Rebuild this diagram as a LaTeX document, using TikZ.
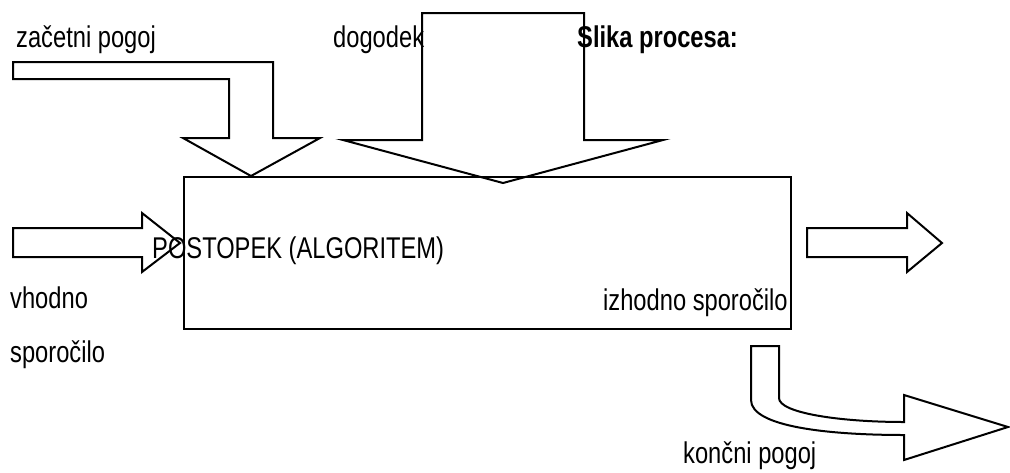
\documentclass[tikz,border=0pt]{standalone}
\usepackage{fontspec}
\setmainfont{Liberation Sans}[FakeStretch=0.79]
\begin{document}
\begin{tikzpicture}[x=1pt,y=-1pt,
  blockarrow/.style={draw=black,line width=2pt,line join=miter},
  lbl/.style={anchor=base west,inner sep=0pt,font=\fontsize{30pt}{32pt}\selectfont},
  procbox/.style={draw=black,line width=2pt,inner sep=0pt}]
\useasboundingbox (0,0) rectangle (1010,472);
% process box
\node[procbox,minimum width=607pt,minimum height=152pt,anchor=north west] (proc) at (183,176) {};
% start condition arrow
\draw[blockarrow] (13,62) -- (273,62) -- (273,138) -- (320,138) -- (251,176) -- (183,138) -- (229,138) -- (229,79) -- (13,79) -- cycle;
% event arrow
\draw[blockarrow] (422,13) -- (584,13) -- (584,140) -- (663,140) -- (503,183) -- (343,140) -- (422,140) -- cycle;
% input arrow
\draw[blockarrow] (13,228) -- (142,228) -- (142,213) -- (180,243) -- (142,272) -- (142,257) -- (13,257) -- cycle;
% output arrow
\draw[blockarrow] (807,228) -- (907,228) -- (907,213) -- (942,243) -- (907,272) -- (907,257) -- (807,257) -- cycle;
% end condition arrow
\draw[blockarrow] (751,346) -- (779,346) -- (779,398)
  .. controls (779,413) and (840,422) .. (904,422)
  -- (904,395) -- (1008,427) -- (904,460) -- (904,435)
  .. controls (830,435) and (751,427) .. (751,400) -- cycle;
% labels
\node[lbl] (zac) at (16,47) {začetni pogoj};
\node[lbl] (dog) at (333,47) {dogodek};
\node[lbl,font=\fontsize{30pt}{32pt}\selectfont\bfseries] (slika) at (577,47) {Slika procesa:};
\node[lbl] (post) at (152,258) {POSTOPEK (ALGORITEM)};
\node[lbl] (vh1) at (10,308) {vhodno};
\node[lbl] (vh2) at (10,362) {sporočilo};
\node[lbl] (izh) at (603,310) {izhodno sporočilo};
\node[lbl] (kon) at (683,463) {končni pogoj};
\end{tikzpicture}
\end{document}
